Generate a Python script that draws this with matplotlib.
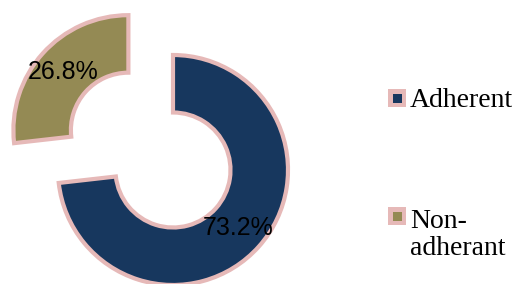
import matplotlib
matplotlib.use("Agg")
import matplotlib.pyplot as plt
from matplotlib.patches import Rectangle

# data
labels = ["Adherent", "Non-\nadherant"]
values = [73.2, 26.8]
colors = ["#17375E", "#948A54"]
edge = "#E6B9B8"

W, H = 517, 284
fig = plt.figure(figsize=(W / 100, H / 100), dpi=100)
ax = fig.add_axes([0, 0, 345 / W, 1])

wedges, texts, autotexts = ax.pie(
    values, colors=colors, startangle=90, counterclock=False,
    explode=[0, 0.52], autopct="%.1f%%", pctdistance=0.76,
    wedgeprops=dict(width=0.5, edgecolor=edge, linewidth=3),
    textprops=dict(fontsize=18, family="Liberation Sans", color="black"))

ax.set_aspect("auto")
ax.set_xlim(-173 / 115, (345 - 173) / 115)
ax.set_ylim(-(284 - 170) / 115, 170 / 115)
ax.axis("off")

# legend drawn by hand: marker next to first line of each label
marker_y = [98, 216]   # pixel rows from top
base_y = [107, 255]    # baseline of last line
for lab, col, my, by in zip(labels, colors, marker_y, base_y):
    fig.patches.append(Rectangle((388 / W, 1 - (my + 9) / H), 18 / W, 18 / H,
                                 transform=fig.transFigure, facecolor=edge,
                                 edgecolor="none"))
    fig.patches.append(Rectangle((393 / W, 1 - (my + 4.5) / H), 9 / W, 9 / H,
                                 transform=fig.transFigure, facecolor=col,
                                 edgecolor="none"))
    fig.text(410 / W, 1 - by / H, lab, ha="left", va="baseline",
             family="Liberation Serif", fontsize=20, linespacing=1.12)

fig.savefig("out.png", dpi=100)
